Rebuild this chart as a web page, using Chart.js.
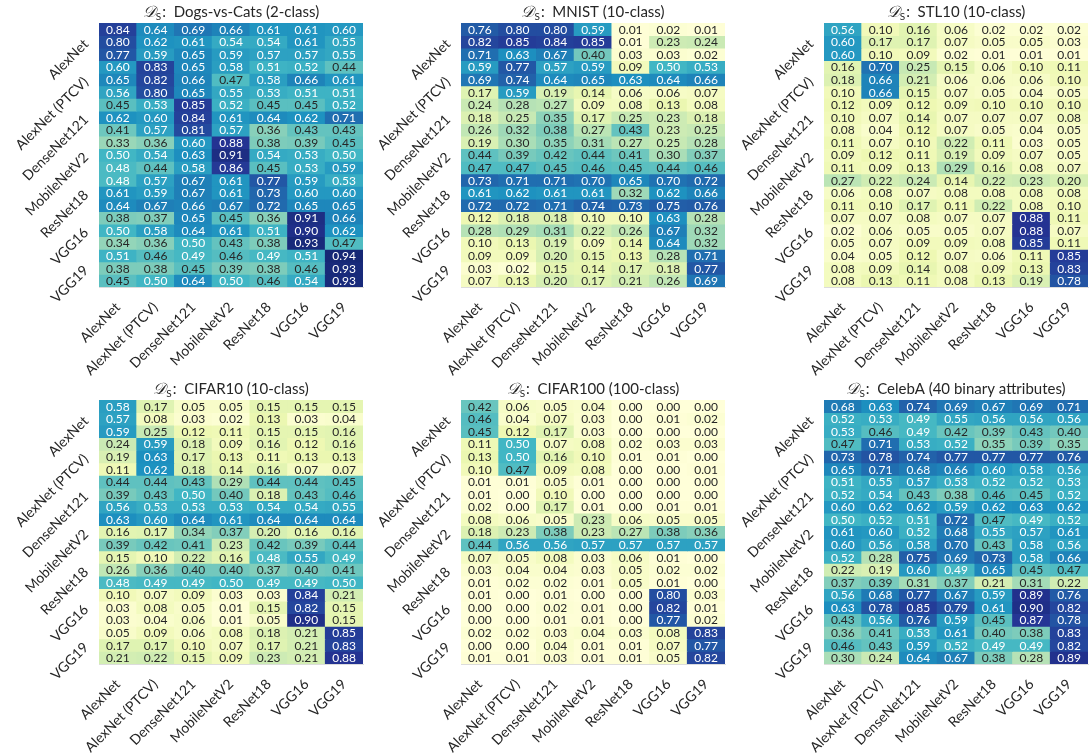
<!DOCTYPE html>
<html>
<head>
<meta charset="utf-8">
<script src="https://cdn.jsdelivr.net/npm/chart.js@4.4.1/dist/chart.umd.min.js"></script>
<style>
  html, body { margin: 0; padding: 0; background: #fff; }
  #fig { position: relative; width: 1089px; height: 756px; overflow: hidden; }
  .panel { position: absolute; }
</style>
</head>
<body>
<div id="fig"></div>
<script>
const models = ["AlexNet", "AlexNet (PTCV)", "DenseNet121", "MobileNetV2", "ResNet18", "VGG16", "VGG19"];

// 21 rows (3 per source model) x 7 target models
const dogsCats = [
  [0.84, 0.64, 0.69, 0.66, 0.61, 0.61, 0.60],
  [0.80, 0.62, 0.61, 0.54, 0.54, 0.61, 0.55],
  [0.77, 0.59, 0.65, 0.59, 0.57, 0.57, 0.55],
  [0.60, 0.83, 0.65, 0.58, 0.51, 0.52, 0.44],
  [0.65, 0.82, 0.66, 0.47, 0.58, 0.66, 0.61],
  [0.56, 0.80, 0.65, 0.55, 0.53, 0.51, 0.51],
  [0.45, 0.53, 0.85, 0.52, 0.45, 0.45, 0.52],
  [0.62, 0.60, 0.84, 0.61, 0.64, 0.62, 0.71],
  [0.41, 0.57, 0.81, 0.57, 0.36, 0.43, 0.43],
  [0.33, 0.36, 0.60, 0.88, 0.38, 0.39, 0.45],
  [0.50, 0.54, 0.63, 0.91, 0.54, 0.53, 0.50],
  [0.48, 0.44, 0.58, 0.86, 0.45, 0.53, 0.59],
  [0.48, 0.57, 0.67, 0.61, 0.77, 0.59, 0.53],
  [0.61, 0.59, 0.67, 0.61, 0.73, 0.60, 0.60],
  [0.64, 0.67, 0.66, 0.67, 0.72, 0.65, 0.65],
  [0.38, 0.37, 0.65, 0.45, 0.36, 0.91, 0.66],
  [0.50, 0.58, 0.64, 0.61, 0.51, 0.90, 0.62],
  [0.34, 0.36, 0.50, 0.43, 0.38, 0.93, 0.47],
  [0.51, 0.46, 0.49, 0.46, 0.49, 0.51, 0.94],
  [0.38, 0.38, 0.45, 0.39, 0.38, 0.46, 0.93],
  [0.45, 0.50, 0.64, 0.50, 0.46, 0.54, 0.93]
];
const mnist = [
  [0.76, 0.80, 0.80, 0.59, 0.01, 0.02, 0.01],
  [0.82, 0.85, 0.84, 0.85, 0.01, 0.23, 0.24],
  [0.71, 0.63, 0.67, 0.40, 0.03, 0.03, 0.02],
  [0.59, 0.77, 0.57, 0.59, 0.09, 0.50, 0.53],
  [0.69, 0.74, 0.64, 0.65, 0.63, 0.64, 0.66],
  [0.17, 0.59, 0.19, 0.14, 0.06, 0.06, 0.07],
  [0.24, 0.28, 0.27, 0.09, 0.08, 0.13, 0.08],
  [0.18, 0.25, 0.35, 0.17, 0.25, 0.23, 0.18],
  [0.26, 0.32, 0.38, 0.27, 0.43, 0.23, 0.25],
  [0.19, 0.30, 0.35, 0.31, 0.27, 0.25, 0.28],
  [0.44, 0.39, 0.42, 0.44, 0.41, 0.30, 0.37],
  [0.47, 0.47, 0.45, 0.46, 0.45, 0.44, 0.46],
  [0.73, 0.71, 0.71, 0.70, 0.65, 0.70, 0.72],
  [0.61, 0.62, 0.61, 0.61, 0.32, 0.62, 0.66],
  [0.72, 0.72, 0.71, 0.74, 0.73, 0.75, 0.76],
  [0.12, 0.18, 0.18, 0.10, 0.10, 0.63, 0.28],
  [0.28, 0.29, 0.31, 0.22, 0.26, 0.67, 0.32],
  [0.10, 0.13, 0.19, 0.09, 0.14, 0.64, 0.32],
  [0.09, 0.09, 0.20, 0.15, 0.13, 0.28, 0.71],
  [0.03, 0.02, 0.15, 0.14, 0.17, 0.18, 0.77],
  [0.07, 0.13, 0.20, 0.17, 0.21, 0.26, 0.69]
];
const stl10 = [
  [0.56, 0.10, 0.16, 0.06, 0.02, 0.02, 0.02],
  [0.60, 0.17, 0.17, 0.07, 0.05, 0.05, 0.03],
  [0.60, 0.10, 0.09, 0.02, 0.01, 0.01, 0.01],
  [0.16, 0.70, 0.25, 0.15, 0.06, 0.10, 0.11],
  [0.18, 0.66, 0.21, 0.06, 0.06, 0.06, 0.10],
  [0.10, 0.66, 0.15, 0.07, 0.05, 0.04, 0.05],
  [0.12, 0.09, 0.12, 0.09, 0.10, 0.10, 0.10],
  [0.10, 0.07, 0.14, 0.07, 0.07, 0.07, 0.08],
  [0.08, 0.04, 0.12, 0.07, 0.05, 0.04, 0.05],
  [0.11, 0.07, 0.10, 0.22, 0.11, 0.03, 0.05],
  [0.09, 0.12, 0.11, 0.19, 0.09, 0.07, 0.05],
  [0.11, 0.09, 0.13, 0.29, 0.16, 0.08, 0.07],
  [0.27, 0.22, 0.24, 0.14, 0.22, 0.23, 0.20],
  [0.06, 0.08, 0.07, 0.08, 0.08, 0.08, 0.08],
  [0.11, 0.10, 0.17, 0.11, 0.22, 0.08, 0.10],
  [0.07, 0.07, 0.08, 0.07, 0.07, 0.88, 0.11],
  [0.02, 0.06, 0.05, 0.05, 0.07, 0.88, 0.07],
  [0.05, 0.07, 0.09, 0.09, 0.08, 0.85, 0.11],
  [0.04, 0.05, 0.12, 0.07, 0.06, 0.11, 0.85],
  [0.08, 0.09, 0.14, 0.08, 0.09, 0.13, 0.83],
  [0.08, 0.13, 0.11, 0.08, 0.13, 0.19, 0.78]
];
const cifar10 = [
  [0.58, 0.17, 0.05, 0.05, 0.15, 0.15, 0.15],
  [0.57, 0.08, 0.03, 0.02, 0.13, 0.03, 0.04],
  [0.59, 0.25, 0.12, 0.11, 0.15, 0.15, 0.16],
  [0.24, 0.59, 0.18, 0.09, 0.16, 0.12, 0.16],
  [0.19, 0.63, 0.17, 0.13, 0.11, 0.13, 0.13],
  [0.11, 0.62, 0.18, 0.14, 0.16, 0.07, 0.07],
  [0.44, 0.44, 0.43, 0.29, 0.44, 0.44, 0.45],
  [0.39, 0.43, 0.50, 0.40, 0.18, 0.43, 0.46],
  [0.56, 0.53, 0.53, 0.53, 0.54, 0.54, 0.55],
  [0.63, 0.60, 0.64, 0.61, 0.64, 0.64, 0.64],
  [0.16, 0.17, 0.34, 0.37, 0.20, 0.16, 0.16],
  [0.39, 0.42, 0.41, 0.23, 0.42, 0.39, 0.44],
  [0.15, 0.10, 0.22, 0.16, 0.48, 0.55, 0.49],
  [0.26, 0.36, 0.40, 0.40, 0.37, 0.40, 0.41],
  [0.48, 0.49, 0.49, 0.50, 0.49, 0.49, 0.50],
  [0.10, 0.07, 0.09, 0.03, 0.03, 0.84, 0.21],
  [0.03, 0.08, 0.05, 0.01, 0.15, 0.82, 0.15],
  [0.03, 0.04, 0.06, 0.01, 0.05, 0.90, 0.15],
  [0.05, 0.09, 0.06, 0.08, 0.18, 0.21, 0.85],
  [0.17, 0.17, 0.10, 0.07, 0.17, 0.21, 0.83],
  [0.21, 0.22, 0.15, 0.09, 0.23, 0.21, 0.88]
];
const cifar100 = [
  [0.42, 0.06, 0.05, 0.04, 0.00, 0.00, 0.00],
  [0.46, 0.04, 0.07, 0.03, 0.00, 0.01, 0.02],
  [0.45, 0.12, 0.17, 0.03, 0.00, 0.00, 0.00],
  [0.11, 0.50, 0.07, 0.08, 0.02, 0.03, 0.03],
  [0.13, 0.50, 0.16, 0.10, 0.01, 0.01, 0.00],
  [0.10, 0.47, 0.09, 0.08, 0.00, 0.00, 0.01],
  [0.01, 0.01, 0.05, 0.01, 0.00, 0.00, 0.00],
  [0.01, 0.00, 0.10, 0.00, 0.00, 0.00, 0.00],
  [0.02, 0.00, 0.17, 0.01, 0.00, 0.01, 0.01],
  [0.08, 0.06, 0.05, 0.23, 0.06, 0.05, 0.05],
  [0.18, 0.23, 0.38, 0.23, 0.27, 0.38, 0.36],
  [0.44, 0.56, 0.56, 0.57, 0.57, 0.57, 0.57],
  [0.07, 0.05, 0.08, 0.03, 0.06, 0.01, 0.00],
  [0.03, 0.04, 0.04, 0.03, 0.05, 0.02, 0.02],
  [0.01, 0.02, 0.02, 0.01, 0.05, 0.01, 0.00],
  [0.01, 0.00, 0.01, 0.00, 0.00, 0.80, 0.03],
  [0.00, 0.00, 0.02, 0.01, 0.00, 0.82, 0.01],
  [0.00, 0.00, 0.01, 0.01, 0.00, 0.77, 0.02],
  [0.02, 0.02, 0.03, 0.04, 0.03, 0.08, 0.83],
  [0.00, 0.00, 0.04, 0.01, 0.01, 0.07, 0.77],
  [0.01, 0.01, 0.03, 0.01, 0.01, 0.05, 0.82]
];
const celeba = [
  [0.68, 0.63, 0.74, 0.69, 0.67, 0.69, 0.71],
  [0.52, 0.53, 0.49, 0.55, 0.56, 0.56, 0.56],
  [0.53, 0.46, 0.49, 0.42, 0.39, 0.43, 0.40],
  [0.47, 0.71, 0.53, 0.52, 0.35, 0.39, 0.35],
  [0.73, 0.78, 0.74, 0.77, 0.77, 0.77, 0.76],
  [0.65, 0.71, 0.68, 0.66, 0.60, 0.58, 0.56],
  [0.51, 0.55, 0.57, 0.53, 0.52, 0.52, 0.53],
  [0.52, 0.54, 0.43, 0.38, 0.46, 0.45, 0.52],
  [0.60, 0.62, 0.62, 0.59, 0.62, 0.63, 0.62],
  [0.50, 0.52, 0.51, 0.72, 0.47, 0.49, 0.52],
  [0.61, 0.60, 0.52, 0.68, 0.55, 0.57, 0.61],
  [0.60, 0.56, 0.58, 0.70, 0.43, 0.58, 0.56],
  [0.52, 0.28, 0.75, 0.69, 0.73, 0.58, 0.66],
  [0.22, 0.19, 0.60, 0.49, 0.65, 0.45, 0.47],
  [0.37, 0.39, 0.31, 0.37, 0.21, 0.31, 0.22],
  [0.56, 0.68, 0.77, 0.67, 0.59, 0.89, 0.76],
  [0.63, 0.78, 0.85, 0.79, 0.61, 0.90, 0.82],
  [0.43, 0.56, 0.76, 0.59, 0.45, 0.87, 0.78],
  [0.36, 0.41, 0.53, 0.61, 0.40, 0.38, 0.83],
  [0.46, 0.43, 0.59, 0.52, 0.49, 0.49, 0.82],
  [0.30, 0.24, 0.64, 0.67, 0.38, 0.28, 0.89]
];

const titles = ["Dogs-vs-Cats (2-class)", "MNIST (10-class)", "STL10 (10-class)",
                "CIFAR10 (10-class)", "CIFAR100 (100-class)", "CelebA (40 binary attributes)"];
const tables = [dogsCats, mnist, stl10, cifar10, cifar100, celeba];

// YlGnBu, fixed range 0..1
const ylgnbu = ["#ffffd9", "#edf8b1", "#c7e9b4", "#7fcdbb", "#41b6c4", "#1d91c0", "#225ea8", "#253494", "#081d58"]
  .map(h => [parseInt(h.slice(1, 3), 16), parseInt(h.slice(3, 5), 16), parseInt(h.slice(5, 7), 16)]);

function cmapRgb(v) {
  const t = Math.min(Math.max(v, 0), 1) * (ylgnbu.length - 1);
  const i = Math.min(Math.floor(t), ylgnbu.length - 2);
  const f = t - i;
  return ylgnbu[i].map((c, k) => c + (ylgnbu[i + 1][k] - c) * f);
}
function cmap(v) {
  const [r, g, b] = cmapRgb(v);
  return `rgb(${Math.round(r)},${Math.round(g)},${Math.round(b)})`;
}
// same rule seaborn uses for annotations
function textColor(v) {
  const lin = cmapRgb(v).map(c => {
    c = c / 255;
    return c <= 0.03928 ? c / 12.92 : Math.pow((c + 0.055) / 1.055, 2.4);
  });
  const lum = 0.2126 * lin[0] + 0.7152 * lin[1] + 0.0722 * lin[2];
  return lum > 0.408 ? "#262626" : "#ffffff";
}

const cellText = {
  id: "cellText",
  afterDatasetsDraw(chart, args, opts) {
    const ctx = chart.ctx;
    ctx.save();
    ctx.font = "12px Lato";
    ctx.textAlign = "center";
    ctx.textBaseline = "middle";
    chart.data.datasets.forEach((ds, r) => {
      chart.getDatasetMeta(r).data.forEach((bar, c) => {
        const v = opts.values[r][c];
        ctx.fillStyle = textColor(v);
        ctx.fillText(v.toFixed(2), bar.x, (bar.y + bar.base) / 2 + 0.5);
      });
    });
    ctx.restore();
  }
};

// "D_S: name" title, drawn in pieces because of the mixed fonts
const dsTitle = {
  id: "dsTitle",
  afterDraw(chart, args, opts) {
    const { ctx, chartArea } = chart;
    const cx = (chartArea.left + chartArea.right) / 2;
    const base = chartArea.top - 6;
    const fD = "italic 16px 'DejaVu Serif'";
    const fS = "10px Lato";
    const fT = "15px Lato";
    const rest = ":  " + opts.text;
    ctx.save();
    ctx.fillStyle = "#262626";
    ctx.textBaseline = "alphabetic";
    ctx.textAlign = "left";
    ctx.font = fD; const wD = ctx.measureText("\u{1D49F}").width;
    ctx.font = fS; const wS = ctx.measureText("S").width;
    ctx.font = fT; const wT = ctx.measureText(rest).width;
    let x = cx - (wD + wS + 1 + wT) / 2;
    ctx.font = fD; ctx.fillText("\u{1D49F}", x, base); x += wD;
    ctx.font = fS; ctx.fillText("S", x, base + 3); x += wS + 1;
    ctx.font = fT; ctx.fillText(rest, x, base);
    ctx.restore();
  }
};

const fig = document.getElementById("fig");
const areaLefts = [99, 461, 824];
const areaTops = [23, 400];
const yAxisW = 99, areaW = 264, areaH = 264;

tables.forEach((values, idx) => {
  const col = idx % 3, row = Math.floor(idx / 3);
  const left = areaLefts[col] - yAxisW;
  const top = areaTops[row] - 23;
  const w = yAxisW + areaW + 2;
  const h = row === 0 ? 377 : 756 - top;
  const xAxisH = h - 23 - areaH;

  const box = document.createElement("div");
  box.className = "panel";
  box.style.left = left + "px";
  box.style.top = top + "px";
  const canvas = document.createElement("canvas");
  canvas.width = w;
  canvas.height = h;
  box.appendChild(canvas);
  fig.appendChild(box);

  const datasets = values.map((rowVals, r) => ({
    data: models.map(() => [r, r + 1]),
    backgroundColor: (c) => cmap(rowVals[c.dataIndex]),
    borderWidth: 0,
    inflateAmount: 0.4,
    barPercentage: 1,
    categoryPercentage: 1,
    grouped: false
  }));

  new Chart(canvas, {
    type: "bar",
    data: { labels: models, datasets },
    options: {
      responsive: false,
      animation: false,
      events: [],
      layout: { padding: { top: 23, right: 2, left: 0, bottom: 0 } },
      plugins: {
        legend: { display: false },
        tooltip: { enabled: false },
        cellText: { values },
        dsTitle: { text: titles[idx] }
      },
      scales: {
        x: {
          type: "category",
          grid: { display: false },
          border: { display: true, color: "#dcdcdc", width: 1 },
          ticks: {
            autoSkip: false, minRotation: 45, maxRotation: 45, padding: 4,
            color: "#262626", font: { family: "Lato", size: 14 }
          },
          afterFit: (s) => { s.height = xAxisH; }
        },
        y: {
          type: "linear",
          min: 0, max: values.length, reverse: true,
          grid: { display: false },
          border: { display: true, color: "#dcdcdc", width: 1 },
          afterBuildTicks: (s) => { s.ticks = models.map((m, i) => ({ value: 3 * i + 1.5 })); },
          ticks: {
            autoSkip: false, minRotation: 45, maxRotation: 45, padding: 5,
            color: "#262626", font: { family: "Lato", size: 14 },
            callback: (v, i) => models[i]
          },
          afterFit: (s) => { s.width = yAxisW; }
        }
      }
    },
    plugins: [cellText, dsTitle]
  });
});
</script>
</body>
</html>
